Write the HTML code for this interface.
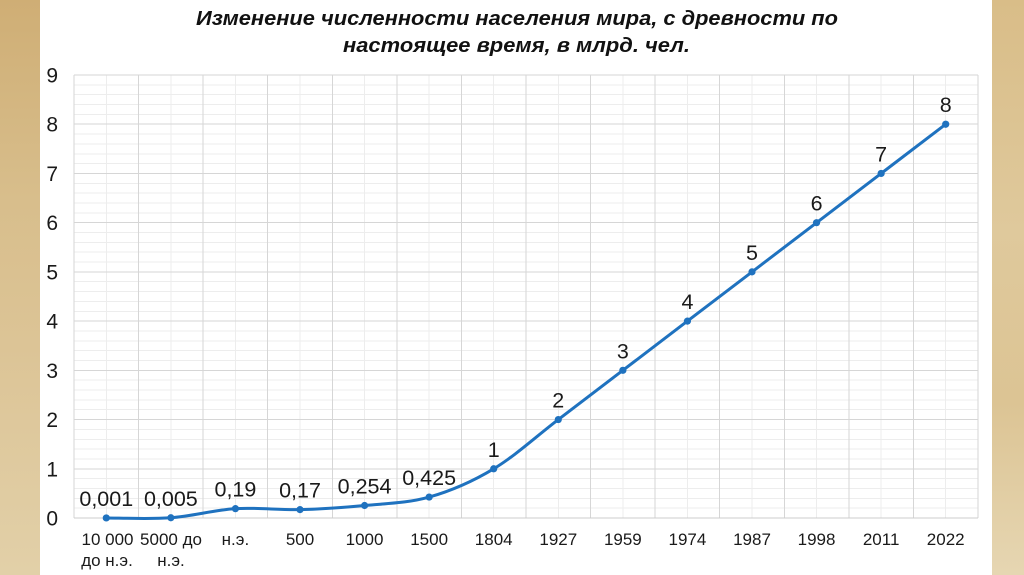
<!DOCTYPE html>
<html>
<head>
<meta charset="utf-8">
<style>
html,body{margin:0;padding:0;}
body{width:1024px;height:575px;overflow:hidden;background:#fff;}
svg{display:block;}
</style>
</head>
<body>
<svg width="1024" height="575" viewBox="0 0 1024 575" xmlns="http://www.w3.org/2000/svg">
<defs>
<linearGradient id="bgL" x1="0" y1="0" x2="0" y2="1">
<stop offset="0" stop-color="#cfae75"/>
<stop offset="0.35" stop-color="#d8be8c"/>
<stop offset="0.6" stop-color="#dcc496"/>
<stop offset="1" stop-color="#e2d0a8"/>
</linearGradient>
<linearGradient id="bgR" x1="0" y1="0" x2="0" y2="1">
<stop offset="0" stop-color="#d9bd88"/>
<stop offset="0.4" stop-color="#dfc99c"/>
<stop offset="0.7" stop-color="#dcc494"/>
<stop offset="1" stop-color="#e6d6b2"/>
</linearGradient>
</defs>
<rect x="0" y="0" width="1024" height="575" fill="#ffffff"/>
<rect x="0" y="0" width="40" height="575" fill="url(#bgL)"/>
<rect x="992" y="0" width="32" height="575" fill="url(#bgR)"/>

<!-- Title -->
<g font-family="Liberation Sans, Arial, sans-serif" font-weight="bold" font-style="italic" font-size="20.5" fill="#111">
<text x="196" y="25" textLength="642" lengthAdjust="spacingAndGlyphs">Изменение численности населения мира, с древности по</text>
<text x="343" y="52" textLength="347" lengthAdjust="spacingAndGlyphs">настоящее время, в млрд. чел.</text>
</g>

<!-- Grid -->
<g shape-rendering="crispEdges" stroke-width="1">
<g stroke="#ededed">
<line x1="74" x2="978" y1="508.16" y2="508.16"/><line x1="74" x2="978" y1="498.31" y2="498.31"/><line x1="74" x2="978" y1="488.47" y2="488.47"/><line x1="74" x2="978" y1="478.62" y2="478.62"/>
<line x1="74" x2="978" y1="458.93" y2="458.93"/><line x1="74" x2="978" y1="449.09" y2="449.09"/><line x1="74" x2="978" y1="439.25" y2="439.25"/><line x1="74" x2="978" y1="429.40" y2="429.40"/>
<line x1="74" x2="978" y1="409.71" y2="409.71"/><line x1="74" x2="978" y1="399.87" y2="399.87"/><line x1="74" x2="978" y1="390.02" y2="390.02"/><line x1="74" x2="978" y1="380.18" y2="380.18"/>
<line x1="74" x2="978" y1="360.49" y2="360.49"/><line x1="74" x2="978" y1="350.64" y2="350.64"/><line x1="74" x2="978" y1="340.80" y2="340.80"/><line x1="74" x2="978" y1="330.96" y2="330.96"/>
<line x1="74" x2="978" y1="311.27" y2="311.27"/><line x1="74" x2="978" y1="301.42" y2="301.42"/><line x1="74" x2="978" y1="291.58" y2="291.58"/><line x1="74" x2="978" y1="281.73" y2="281.73"/>
<line x1="74" x2="978" y1="262.04" y2="262.04"/><line x1="74" x2="978" y1="252.20" y2="252.20"/><line x1="74" x2="978" y1="242.36" y2="242.36"/><line x1="74" x2="978" y1="232.51" y2="232.51"/>
<line x1="74" x2="978" y1="212.82" y2="212.82"/><line x1="74" x2="978" y1="202.98" y2="202.98"/><line x1="74" x2="978" y1="193.13" y2="193.13"/><line x1="74" x2="978" y1="183.29" y2="183.29"/>
<line x1="74" x2="978" y1="163.60" y2="163.60"/><line x1="74" x2="978" y1="153.76" y2="153.76"/><line x1="74" x2="978" y1="143.91" y2="143.91"/><line x1="74" x2="978" y1="134.07" y2="134.07"/>
<line x1="74" x2="978" y1="114.38" y2="114.38"/><line x1="74" x2="978" y1="104.53" y2="104.53"/><line x1="74" x2="978" y1="94.69" y2="94.69"/><line x1="74" x2="978" y1="84.84" y2="84.84"/>
<line y1="75" y2="518" x1="106.29" x2="106.29"/><line y1="75" y2="518" x1="170.86" x2="170.86"/><line y1="75" y2="518" x1="235.43" x2="235.43"/><line y1="75" y2="518" x1="300" x2="300"/>
<line y1="75" y2="518" x1="364.57" x2="364.57"/><line y1="75" y2="518" x1="429.14" x2="429.14"/><line y1="75" y2="518" x1="493.71" x2="493.71"/><line y1="75" y2="518" x1="558.29" x2="558.29"/>
<line y1="75" y2="518" x1="622.86" x2="622.86"/><line y1="75" y2="518" x1="687.43" x2="687.43"/><line y1="75" y2="518" x1="752" x2="752"/><line y1="75" y2="518" x1="816.57" x2="816.57"/>
<line y1="75" y2="518" x1="881.14" x2="881.14"/><line y1="75" y2="518" x1="945.71" x2="945.71"/>
</g>
<g stroke="#d6d6d6">
<line x1="74" x2="978" y1="468.78" y2="468.78"/><line x1="74" x2="978" y1="419.56" y2="419.56"/><line x1="74" x2="978" y1="370.33" y2="370.33"/>
<line x1="74" x2="978" y1="321.11" y2="321.11"/><line x1="74" x2="978" y1="271.89" y2="271.89"/><line x1="74" x2="978" y1="222.67" y2="222.67"/>
<line x1="74" x2="978" y1="173.44" y2="173.44"/><line x1="74" x2="978" y1="124.22" y2="124.22"/><line x1="74" x2="978" y1="75" y2="75"/>
<line y1="75" y2="518" x1="74" x2="74"/><line y1="75" y2="518" x1="138.57" x2="138.57"/><line y1="75" y2="518" x1="203.14" x2="203.14"/><line y1="75" y2="518" x1="267.71" x2="267.71"/>
<line y1="75" y2="518" x1="332.29" x2="332.29"/><line y1="75" y2="518" x1="396.86" x2="396.86"/><line y1="75" y2="518" x1="461.43" x2="461.43"/><line y1="75" y2="518" x1="526" x2="526"/>
<line y1="75" y2="518" x1="590.57" x2="590.57"/><line y1="75" y2="518" x1="655.14" x2="655.14"/><line y1="75" y2="518" x1="719.71" x2="719.71"/><line y1="75" y2="518" x1="784.29" x2="784.29"/>
<line y1="75" y2="518" x1="848.86" x2="848.86"/><line y1="75" y2="518" x1="913.43" x2="913.43"/><line y1="75" y2="518" x1="978" x2="978"/>
</g>
<line x1="74" x2="978" y1="518" y2="518" stroke="#cccccc"/>
</g>

<!-- Y labels -->
<g font-family="Liberation Sans, Arial, sans-serif" font-size="21" fill="#1a1a1a" text-anchor="end">
<text x="58" y="525.5">0</text>
<text x="58" y="476.3">1</text>
<text x="58" y="427.1">2</text>
<text x="58" y="377.8">3</text>
<text x="58" y="328.6">4</text>
<text x="58" y="279.4">5</text>
<text x="58" y="230.2">6</text>
<text x="58" y="180.9">7</text>
<text x="58" y="131.7">8</text>
<text x="58" y="82.5">9</text>
</g>

<!-- X labels -->
<g font-family="Liberation Sans, Arial, sans-serif" font-size="17" fill="#1a1a1a" text-anchor="middle">
<text x="107.5" y="545">10 000</text>
<text x="107" y="566">до н.э.</text>
<text x="171" y="545">5000 до</text>
<text x="171" y="566">н.э.</text>
<text x="235.43" y="545">н.э.</text>
<text x="300" y="545">500</text>
<text x="364.57" y="545">1000</text>
<text x="429.14" y="545">1500</text>
<text x="493.71" y="545">1804</text>
<text x="558.29" y="545">1927</text>
<text x="622.86" y="545">1959</text>
<text x="687.43" y="545">1974</text>
<text x="752" y="545">1987</text>
<text x="816.57" y="545">1998</text>
<text x="881.14" y="545">2011</text>
<text x="945.71" y="545">2022</text>
</g>

<!-- Series -->
<path fill="none" stroke="#1f72bf" stroke-width="3" stroke-linejoin="round" stroke-linecap="round"
d="M106.29,517.95 C117.05,517.92 149.34,519.30 170.86,517.75 C192.38,516.20 213.91,510.00 235.43,508.65 C256.95,507.30 278.48,510.16 300,509.63 C321.52,509.11 343.05,507.59 364.57,505.50 C386.09,503.41 407.62,503.20 429.14,497.08 C450.66,490.96 472.19,481.70 493.71,468.78 C515.23,455.86 536.77,435.97 558.29,419.56 L622.86,370.33 L687.43,321.11 L752,271.89 L816.57,222.67 L881.14,173.44 L945.71,124.22"/>
<g fill="#1f72bf">
<circle cx="106.29" cy="517.95" r="3.6"/><circle cx="170.86" cy="517.75" r="3.6"/><circle cx="235.43" cy="508.65" r="3.6"/>
<circle cx="300" cy="509.63" r="3.6"/><circle cx="364.57" cy="505.50" r="3.6"/><circle cx="429.14" cy="497.08" r="3.6"/>
<circle cx="493.71" cy="468.78" r="3.6"/><circle cx="558.29" cy="419.56" r="3.6"/><circle cx="622.86" cy="370.33" r="3.6"/>
<circle cx="687.43" cy="321.11" r="3.6"/><circle cx="752" cy="271.89" r="3.6"/><circle cx="816.57" cy="222.67" r="3.6"/>
<circle cx="881.14" cy="173.44" r="3.6"/><circle cx="945.71" cy="124.22" r="3.6"/>
</g>

<!-- Data labels -->
<g font-family="Liberation Sans, Arial, sans-serif" font-size="21.5" fill="#1a1a1a" text-anchor="middle">
<text x="106.29" y="506">0,001</text>
<text x="170.86" y="506">0,005</text>
<text x="235.43" y="496.6">0,19</text>
<text x="300" y="497.6">0,17</text>
<text x="364.57" y="493.5">0,254</text>
<text x="429.14" y="485">0,425</text>
<text x="493.71" y="456.8">1</text>
<text x="558.29" y="407.6">2</text>
<text x="622.86" y="358.3">3</text>
<text x="687.43" y="309.1">4</text>
<text x="752" y="259.9">5</text>
<text x="816.57" y="210.7">6</text>
<text x="881.14" y="161.4">7</text>
<text x="945.71" y="112.2">8</text>
</g>
</svg>
</body>
</html>
